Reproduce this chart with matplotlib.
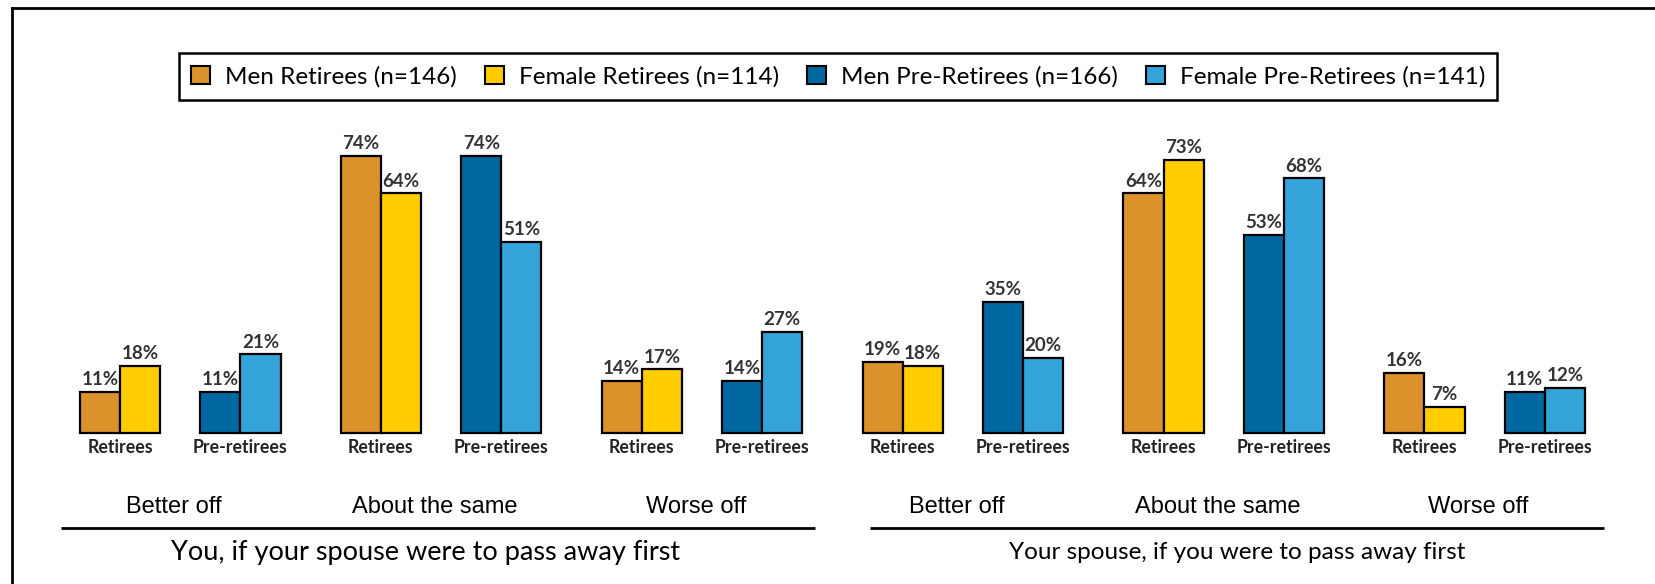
import matplotlib.pyplot as plt
from matplotlib.patches import Patch
from matplotlib.lines import Line2D

# data
outcomes = ['Better off', 'About the same', 'Worse off']
panels = ['You, if your spouse were to pass away first',
          'Your spouse, if you were to pass away first']
groups = ['Retirees', 'Pre-retirees']
series = ['Men Retirees (n=146)', 'Female Retirees (n=114)',
          'Men Pre-Retirees (n=166)', 'Female Pre-Retirees (n=141)']
men_ret = [11, 74, 14, 19, 64, 16]
fem_ret = [18, 64, 17, 18, 73, 7]
men_pre = [11, 74, 14, 35, 53, 11]
fem_pre = [21, 51, 27, 20, 68, 12]

colors = ['#DB922B', '#FFCC00', '#0068A0', '#33A3DA']


def main():
    fig = plt.figure(figsize=(16.56, 5.84), dpi=100)
    ax = fig.add_axes([0, 0, 1, 1])
    ax.set_xlim(-2.99, 38.27)
    ax.set_ylim(-40.34, 115.68)
    ax.axis('off')

    gap = 6.5   # distance between outcome categories
    sub = 3.0   # distance between retirees and pre-retirees pairs
    pairs = [(men_ret, fem_ret, colors[0], colors[1]),
             (men_pre, fem_pre, colors[2], colors[3])]

    for i in range(len(men_ret)):
        for j, (left, right, c1, c2) in enumerate(pairs):
            center = i * gap + j * sub
            for x, v, c in [(center - 0.5, left[i], c1), (center + 0.5, right[i], c2)]:
                ax.bar(x, v, width=1.0, color=c, edgecolor='black', linewidth=1.6, zorder=2)
                ax.text(x, v + 1.0, '{}%'.format(v), ha='center', va='bottom',
                        fontsize=13.5, fontweight='bold', family='Lato', color='#333333')
            ax.text(center, -4.0, groups[j], ha='center', va='center',
                    fontsize=12.8, fontweight='bold', family='Lato', color='#222222')
        ax.text(i * gap + sub / 2 - 0.15, -19.8, outcomes[i % 3], ha='center', va='center',
                fontsize=17, family='Liberation Sans', color='black')

    # panel lines and titles
    span = 3 * gap
    for p in range(2):
        x0 = p * span - 1.47 + p * 0.66
        x1 = p * span + 17.32 + p * 0.16
        ax.plot([x0, x1], [-25.4, -25.4], color='black', linewidth=2, solid_capstyle='butt')
        size = 19.5 if p == 0 else 17.5
        shift = -0.3 if p == 0 else 0
        ax.text((x0 + x1) / 2 + shift, -31.8, panels[p], ha='center', va='center',
                fontsize=size, family='Lato', color='black')

    # legend
    handles = [Patch(facecolor=c, edgecolor='black', linewidth=1.5) for c in colors]
    leg = fig.legend(handles, series, loc='center', bbox_to_anchor=(0.506, 0.869), ncol=4,
                     prop={'family': 'Lato', 'size': 17.5}, frameon=True, fancybox=False,
                     edgecolor='black', handlelength=0.8, handleheight=0.8,
                     handletextpad=0.6, columnspacing=1.15, borderpad=0.5)
    leg.get_frame().set_linewidth(1.8)
    leg.get_frame().set_alpha(1)

    # border on top and left
    fig.add_artist(Line2D([12 / 1656, 12 / 1656], [0, 1 - 8 / 584], color='black', linewidth=2))
    fig.add_artist(Line2D([12 / 1656, 1], [1 - 8 / 584, 1 - 8 / 584], color='black', linewidth=2))

    fig.savefig('out.png', dpi=100)


if __name__ == '__main__':
    main()
